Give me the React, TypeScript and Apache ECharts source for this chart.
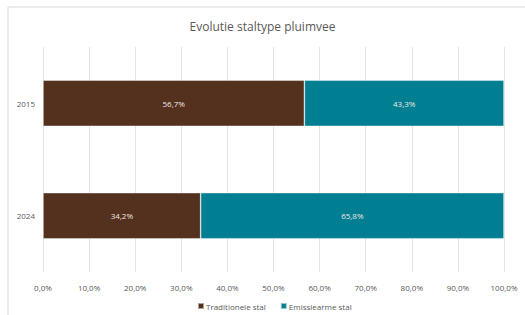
import React, { useEffect, useRef } from "react";
import * as echarts from "echarts";

const title = "Evolutie staltype pluimvee";
const categories = ["2015", "2024"];
const seriesNames = ["Traditionele stal", "Emissiearme stal"];
const traditioneel = [56.7, 34.2];
const emissiearm = [43.3, 65.8];
const colors = ["#54301e", "#007f93"];

const fmt = (v: number) => v.toFixed(1).replace(".", ",") + "%";

export default function App() {
  const ref = useRef<HTMLDivElement>(null);
  useEffect(() => {
    const chart = echarts.init(ref.current!, undefined, { renderer: "svg" });
    const font = "'Open Sans', 'Liberation Sans', sans-serif";
    const mk = (name: string, data: number[], color: string) => ({
      name,
      type: "bar",
      stack: "total",
      data,
      barWidth: "41%",
      itemStyle: { color, borderColor: "rgba(255,255,255,0.55)", borderWidth: 0.7 },
      label: {
        show: true,
        position: "inside",
        color: "#f3e6e0",
        fontSize: 8,
        fontFamily: font,
        formatter: (p: any) => fmt(p.value),
      },
    });
    chart.setOption({
      animation: false,
      backgroundColor: "#ffffff",
      textStyle: { fontFamily: font },
      title: {
        text: title,
        left: "center",
        top: 15,
        textStyle: { fontSize: 12, fontWeight: "normal", color: "#595959", fontFamily: font },
      },
      graphic: [
        {
          type: "rect",
          shape: { x: 8, y: 7, width: 530, height: 320 },
          style: { fill: "none", stroke: "#d9d9d9", lineWidth: 1 },
          silent: true,
        },
      ],
      legend: {
        bottom: 0,
        left: 192,
        itemWidth: 6,
        itemHeight: 6,
        itemGap: 14,
        icon: "rect",
        textStyle: { fontSize: 8, color: "#595959", fontFamily: font, padding: [0, 0, 0, -3] },
        data: seriesNames,
      },
      grid: { left: 43, right: 21, top: 47, bottom: 43, containLabel: false },
      xAxis: {
        type: "value",
        min: 0,
        max: 100,
        interval: 10,
        axisLine: { show: false },
        axisTick: { show: false },
        axisLabel: { fontSize: 8, color: "#595959", margin: 11, formatter: (v: number) => fmt(v) },
        splitLine: { lineStyle: { color: "#e3e3e3", width: 1 } },
      },
      yAxis: {
        type: "category",
        data: categories,
        inverse: true,
        axisLine: { show: false },
        axisTick: { show: false },
        axisLabel: { fontSize: 8, color: "#595959", margin: 8 },
      },
      series: [
        mk(seriesNames[0], traditioneel, colors[0]),
        mk(seriesNames[1], emissiearm, colors[1]),
      ],
    });
    return () => chart.dispose();
  }, []);
  return (
    <div
      ref={ref}
      style={{ position: "absolute", left: 0, top: 0, width: 525, height: 315 }}
    />
  );
}
